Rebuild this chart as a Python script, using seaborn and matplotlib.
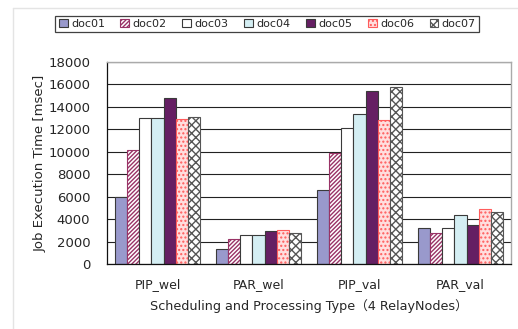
import pandas as pd
import matplotlib.pyplot as plt
import seaborn as sns
from matplotlib.lines import Line2D

# Values
types = ['PIP_wel', 'PAR_wel', 'PIP_val', 'PAR_val']
docs = ['doc01', 'doc02', 'doc03', 'doc04', 'doc05', 'doc06', 'doc07']
doc01 = [6000, 1350, 6550, 3180]
doc02 = [10200, 2200, 9900, 2760]
doc03 = [13000, 2550, 12100, 3180]
doc04 = [13000, 2550, 13350, 4400]
doc05 = [14800, 2900, 15450, 3480]
doc06 = [12900, 3000, 12800, 4900]
doc07 = [13100, 2750, 15750, 4650]

series = [doc01, doc02, doc03, doc04, doc05, doc06, doc07]
rows = []
for d, vals in zip(docs, series):
    for t, v in zip(types, vals):
        rows.append({'type': t, 'doc': d, 'time': v})
df = pd.DataFrame(rows)

face = ['#9999cc', '#ffffff', '#ffffff', '#d4eef3', '#651f63', '#ffdede', '#ffffff']
hatches = [None, '////////', None, None, None, '....', 'xxxx']
hatch_cols = [None, '#993366', None, None, None, '#ff5c5c', '#555555']

sns.set_style('white')
plt.rcParams['font.family'] = ['DejaVu Sans', 'Noto Sans CJK JP']
plt.rcParams['hatch.linewidth'] = 1.0

fig = plt.figure(figsize=(5.18, 3.29), dpi=100)
ax = fig.add_axes([0.2066, 0.1976, 0.7799, 0.614])

sns.barplot(data=df, x='type', y='time', hue='doc', palette=face,
            width=0.84, saturation=1, edgecolor='#3a3a3a', linewidth=0.8,
            legend=False, ax=ax)

for cont, h, hc in zip(ax.containers, hatches, hatch_cols):
    if h is None:
        continue
    for p in cont.patches:
        p.set_hatch(h)
        if hasattr(p, 'set_hatchcolor'):
            p.set_hatchcolor(hc)
        else:
            p.set_edgecolor(hc)

ax.set_ylim(0, 18000)
ax.set_yticks(range(0, 18001, 2000))
ax.set_xlim(-0.5, 3.5)
ax.yaxis.grid(True, color='#222222', linewidth=0.8)
ax.set_axisbelow(True)

ax.set_xticks([0.5, 1.5, 2.5], minor=True)
ax.tick_params(axis='x', which='major', length=0, labelsize=9, pad=10)
ax.tick_params(axis='x', which='minor', direction='in', length=4, width=0.8, color='#222222')
ax.tick_params(axis='y', length=0, labelsize=9.5, pad=12)

for s in ['left', 'bottom']:
    ax.spines[s].set_color('#111111')
    ax.spines[s].set_linewidth(0.9)
for s in ['top', 'right']:
    ax.spines[s].set_color('#aaaaaa')
    ax.spines[s].set_linewidth(1.0)

ax.set_ylabel('Job Execution Time [msec]', fontsize=9.5, labelpad=1)
ax.set_xlabel('Scheduling and Processing Type（4 RelayNodes）', fontsize=9.2, labelpad=6)

leg = fig.legend(ax.containers, docs, loc='center', bbox_to_anchor=(0.516, 0.927),
                 ncol=7, fontsize=8, frameon=True, fancybox=False,
                 handlelength=0.8, handleheight=0.8, handletextpad=0.3,
                 columnspacing=1.4, borderpad=0.3, borderaxespad=0)
leg.get_frame().set_edgecolor('#111111')
leg.get_frame().set_linewidth(0.9)

# faint outer chart-area border
fig.add_artist(Line2D([0.025, 1.0], [0.975, 0.975], color='#e4e4e4', lw=1, transform=fig.transFigure))
fig.add_artist(Line2D([0.025, 0.025], [0.0, 0.975], color='#e4e4e4', lw=1, transform=fig.transFigure))

fig.savefig('out.png', dpi=100)
